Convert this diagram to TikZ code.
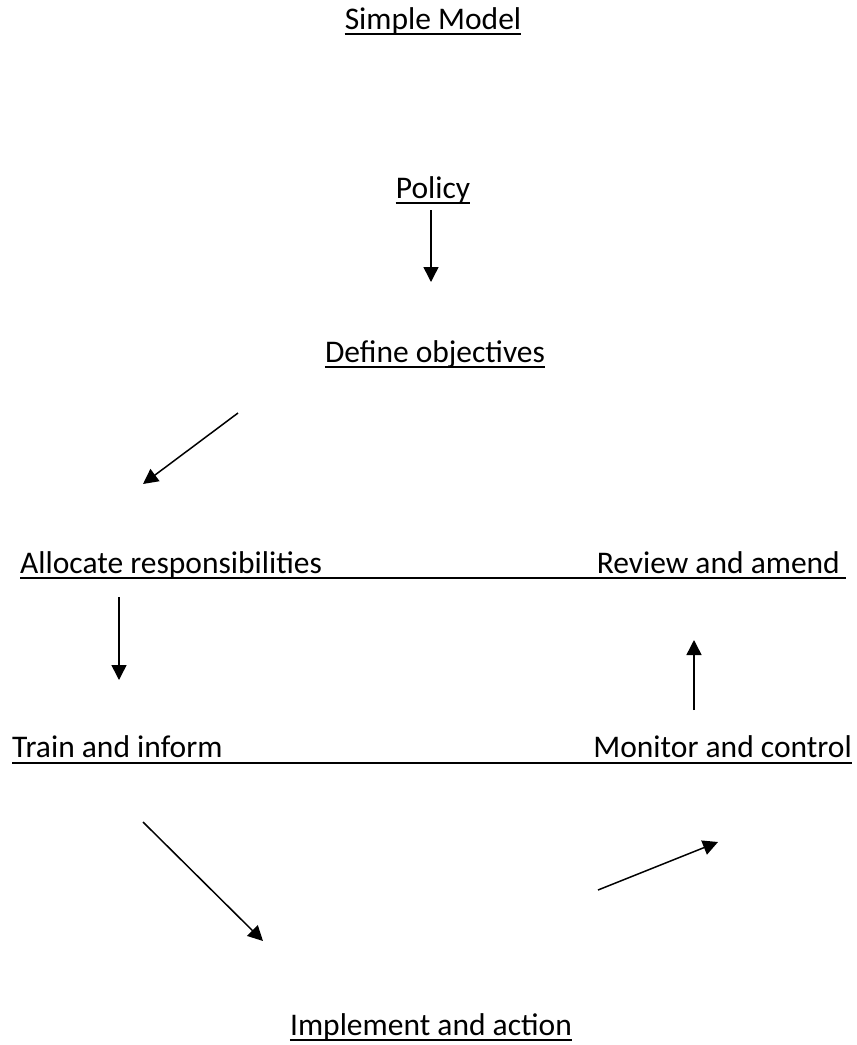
\documentclass[tikz,border=0pt]{standalone}
\usepackage{fontspec}
\setmainfont{Carlito}
\usetikzlibrary{arrows.meta}

\begin{document}
\begin{tikzpicture}[x=1pt,y=-1pt,
  txt/.style={inner sep=0pt,font=\fontsize{31.5}{38}\selectfont},
  uline/.style={line width=2.7pt},
  arr/.style={line width=1.5pt,-{Triangle[length=15pt,width=15pt]}}]
\useasboundingbox (0,0) rectangle (857,1045);
%
\node[txt,anchor=base] (title) at (433,29) {Simple Model};
\node[txt,anchor=base] (pol) at (433,198) {Policy};
\node[txt,anchor=base] (def) at (435,362) {Define objectives};
\node[txt,anchor=base west] (alloc) at (20,573) {Allocate responsibilities};
\node[txt,anchor=base east] (rev) at (840,573) {Review and amend};
\node[txt,anchor=base west] (train) at (12,757) {Train and inform};
\node[txt,anchor=base east] (mon) at (852,757) {Monitor and control};
\node[txt,anchor=base] (impl) at (431,1035) {Implement and action};
%
% underlines
\foreach \n in {title,pol,def,impl}
  \draw[uline] ([yshift=-5pt]\n.base west) -- ([yshift=-5pt]\n.base east);
\draw[uline] ([yshift=-5pt]alloc.base west) -- ([shift={(6pt,-5pt)}]rev.base east);
\draw[uline] ([yshift=-6pt]train.base west) -- ([yshift=-6pt]mon.base east);
%
\coordinate (a1) at (431,210);  \coordinate (b1) at (431,282);
\coordinate (a2) at (238,413);  \coordinate (b2) at (143,484);
\coordinate (a3) at (119,597);  \coordinate (b3) at (119,680);
\coordinate (a4) at (143,822);  \coordinate (b4) at (263,941);
\coordinate (a5) at (598,890);  \coordinate (b5) at (718,842);
\coordinate (a6) at (694,710);  \coordinate (b6) at (694,640);
\foreach \i in {1,...,6}
  \draw[arr] (a\i) -- (b\i);
\end{tikzpicture}
\end{document}
